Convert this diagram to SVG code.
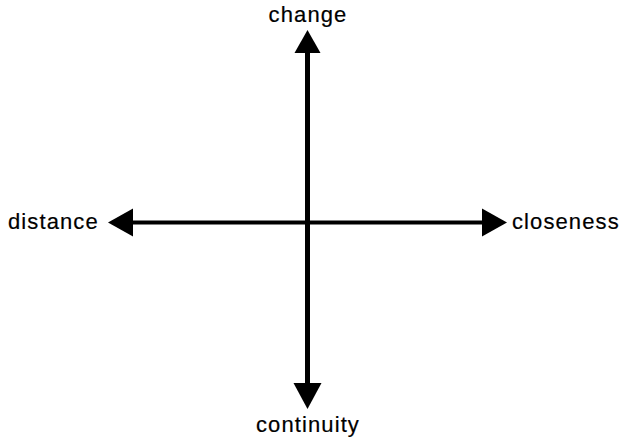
<svg xmlns="http://www.w3.org/2000/svg" width="621" height="440" viewBox="0 0 621 440">
<style>
.lbl{font-family:"Liberation Sans",Arial,sans-serif;font-size:22px;fill:#000;stroke:#000;stroke-width:0.2;letter-spacing:1.1px}
.ax{stroke:#000;fill:none}
.head{fill:#000}
</style>
<rect width="621" height="440" fill="#fff"/>
<g id="connectors">
<line class="ax" x1="307.5" y1="48" x2="307.5" y2="388" stroke-width="5"/>
<line class="ax" x1="128" y1="222.5" x2="487" y2="222.5" stroke-width="4"/>
<polygon class="head" points="307.5,30 294.5,53 320.5,53"/>
<polygon class="head" points="307.5,409 293.5,383 321.5,383"/>
<polygon class="head" points="108,222.5 133,208.5 133,236.5"/>
<polygon class="head" points="507,222.5 482,208.5 482,236.5"/>
</g>
<g id="change"><text class="lbl" x="308" y="22" text-anchor="middle">change</text></g>
<g id="distance"><text class="lbl" x="8" y="229">distance</text></g>
<g id="closeness"><text class="lbl" x="512" y="229">closeness</text></g>
<g id="continuity"><text class="lbl" x="308" y="432" text-anchor="middle">continuity</text></g>
</svg>
